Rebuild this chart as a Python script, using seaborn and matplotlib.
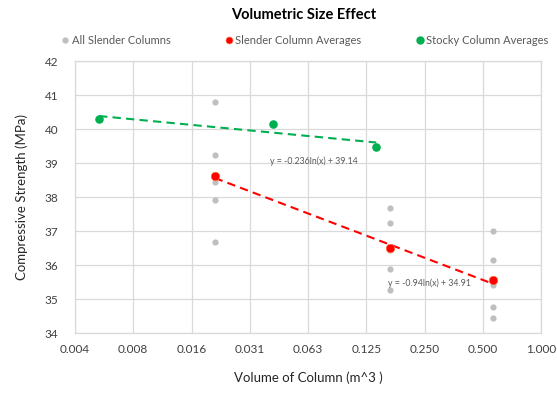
import numpy as np
import pandas as pd
import matplotlib
matplotlib.use("Agg")
import matplotlib.pyplot as plt
import seaborn as sns
from matplotlib.lines import Line2D

# ---------------- data ----------------
slender_x = [0.0206]*5 + [0.166]*5 + [0.5625]*5
slender_y = [40.79, 39.23, 38.45, 37.91, 36.68,
             37.68, 37.24, 36.43, 35.88, 35.26,
             37.00, 36.15, 35.40, 34.76, 34.43]
slender_avg_x = [0.0206, 0.166, 0.5625]
slender_avg_y = [38.61, 36.50, 35.56]
stocky_avg_x = [0.0052, 0.0413, 0.1408]
stocky_avg_y = [40.29, 40.15, 39.47]
# trendline coefficients as printed: y = a ln(x) + b
red_a, red_b = -0.94, 34.91
green_a, green_b = -0.236, 39.14
xtick_vals = [2.0**k for k in range(-8, 1)]
xtick_labels = ["0.004", "0.008", "0.016", "0.031", "0.063", "0.125", "0.250", "0.500", "1.000"]
yticks = [34, 35, 36, 37, 38, 39, 40, 41, 42]

GREY = "#BFBFBF"
RED = "#FF0000"
GREEN = "#00B050"
TXT = "#595959"

sns.set_theme(style="white")
plt.rcParams["font.family"] = ["Lato", "DejaVu Sans"]

fig = plt.figure(figsize=(5.57, 3.95), dpi=100)
ax = fig.add_axes([75/557, 1-333/395, (541-75)/557, (333-61)/395])

# trendlines
xr = np.geomspace(min(slender_avg_x), max(slender_avg_x), 100)
xg = np.geomspace(min(stocky_avg_x), max(stocky_avg_x), 100)
red_df = pd.DataFrame({"x": xr, "y": red_a*np.log(xr) + red_b})
green_df = pd.DataFrame({"x": xg, "y": green_a*np.log(xg) + green_b})

sns.scatterplot(x=slender_x, y=slender_y, ax=ax, color=GREY, s=20, linewidth=0, zorder=3)
sns.lineplot(data=red_df, x="x", y="y", ax=ax, color=RED, lw=1.5, dashes=False, zorder=4)
sns.lineplot(data=green_df, x="x", y="y", ax=ax, color=GREEN, lw=1.5, dashes=False, zorder=4)
for l in ax.lines:
    l.set_dashes([4, 2.5])
sns.scatterplot(x=slender_avg_x, y=slender_avg_y, ax=ax, color=RED, s=38,
                edgecolor="#FF7A3A", linewidth=0.4, zorder=5)
sns.scatterplot(x=stocky_avg_x, y=stocky_avg_y, ax=ax, color=GREEN, s=38, linewidth=0, zorder=5)

ax.set_xscale("log", base=2)
ax.set_xlim(2.0**-8, 1.0)
ax.set_ylim(34, 42)
ax.set_xticks(xtick_vals)
ax.set_xticklabels(xtick_labels)
ax.minorticks_off()
ax.set_yticks(yticks)
ax.tick_params(axis="both", length=0, labelsize=8.5, colors="#404040", pad=8)
ax.tick_params(axis="y", pad=12)
ax.grid(True, color="#D9D9D9", lw=0.9)
for s in ax.spines.values():
    s.set_color("#D9D9D9")
    s.set_linewidth(0.9)

ax.set_xlabel("Volume of Column (m^3 )", fontsize=9.5, color="#262626", labelpad=12)
ax.set_ylabel("Compressive Strength (MPa)", fontsize=9.5, color="#262626", labelpad=12)

ax.text(2.0**((270-75)/58.25-8), 39.05, "y = -0.236ln(x) + 39.14", fontsize=6.3, color=TXT, va="center")
ax.text(2.0**((388-75)/58.25-8), 35.45, "y = -0.94ln(x) + 34.91", fontsize=6.3, color=TXT, va="center")

fig.text(304/557, 1-15/395, "Volumetric Size Effect", ha="center", va="center",
         fontsize=10.5, fontweight="bold", color="#000000")

handles = [
    Line2D([], [], ls="none", marker="o", ms=3.5, color=GREY, mec=GREY),
    Line2D([], [], ls="none", marker="o", ms=5, color=RED, mec="#FF7A3A", mew=0.4),
    Line2D([], [], ls="none", marker="o", ms=5, color=GREEN, mec=GREEN),
]
labels = ["All Slender Columns", "Slender Column Averages", "Stocky Column Averages"]
fig.legend(handles, labels, loc="center", bbox_to_anchor=(304/557, 1-40/395), ncol=3,
           frameon=False, fontsize=8, labelcolor=TXT, handletextpad=0.1,
           columnspacing=4.74, handlelength=1.0)

fig.savefig("out.png", dpi=100)
